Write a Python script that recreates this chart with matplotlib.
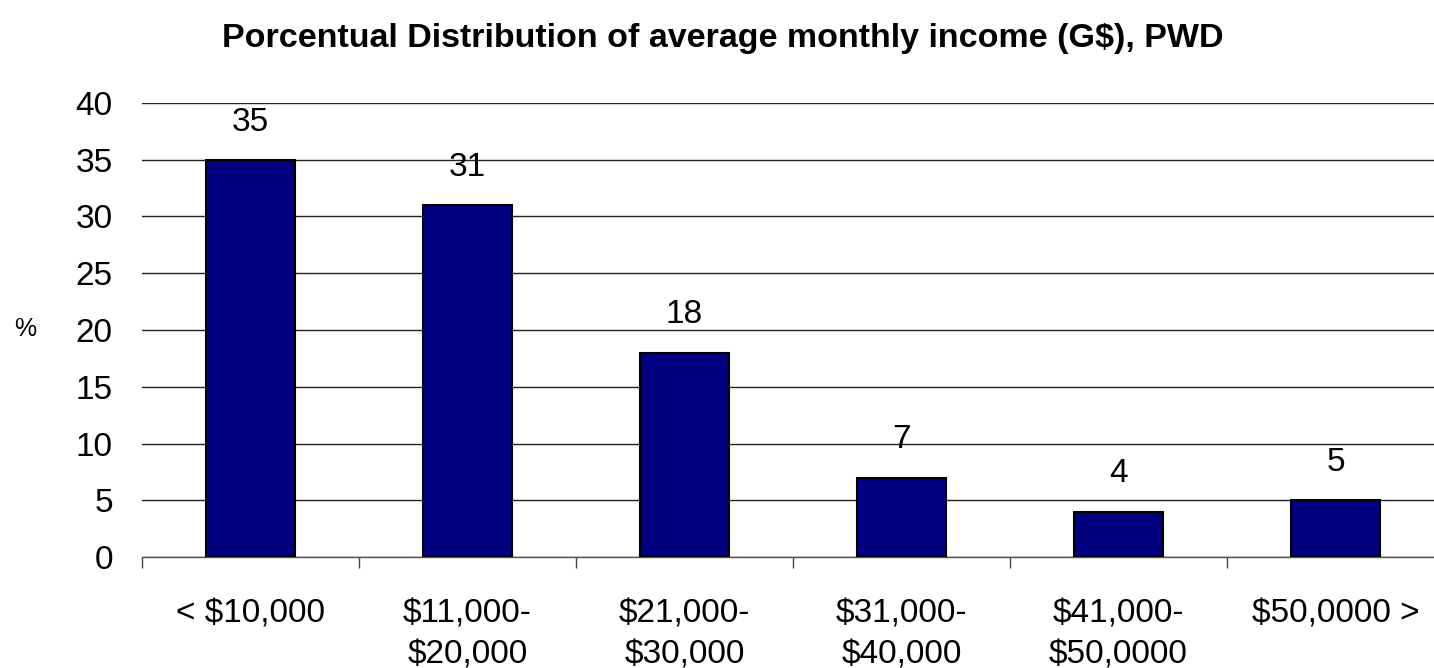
import matplotlib.pyplot as plt
import numpy as np

# Data
categories = ['< $10,000', '$11,000-\n$20,000', '$21,000-\n$30,000',
              '$31,000-\n$40,000', '$41,000-\n$50,0000', '$50,0000 >']
percent = [35, 31, 18, 7, 4, 5]
y_ticks = [0, 5, 10, 15, 20, 25, 30, 35, 40]

plt.rcParams['font.family'] = ['Liberation Sans', 'DejaVu Sans']

fig = plt.figure(figsize=(14.34, 6.68), dpi=100)
ax = fig.add_axes([142 / 1434, 111 / 668, 1302 / 1434, 454 / 668])

x = np.arange(len(categories))
bars = ax.bar(x, percent, width=0.41, color='#000080', edgecolor='black',
              linewidth=1.5, zorder=3)

for b, v in zip(bars, percent):
    ax.annotate(str(v), (b.get_x() + b.get_width() / 2, v),
                xytext=(0, 16), textcoords='offset points',
                ha='center', va='bottom', fontsize=24)

ax.set_xlim(-0.5, len(categories) - 0.5)
ax.set_ylim(0, 40)
ax.set_yticks(y_ticks)
ax.set_yticklabels([str(t) for t in y_ticks], fontsize=24)
ax.tick_params(axis='y', length=0, pad=21)

# ticks on x sit at category boundaries, labels at the centres
ax.set_xticks(np.arange(len(categories) + 1) - 0.5)
ax.set_xticklabels([])
ax.set_xticks(x, minor=True)
ax.set_xticklabels(categories, minor=True, fontsize=24, linespacing=1.4,
                   va='top')
ax.tick_params(axis='x', which='major', length=8, width=1, color='#444444',
               direction='out')
ax.tick_params(axis='x', which='minor', length=0, pad=30)

ax.yaxis.grid(True, color='#222222', linewidth=1, zorder=0)
ax.set_axisbelow(True)
for s in ['left', 'right', 'top']:
    ax.spines[s].set_visible(False)
ax.spines['bottom'].set_color('#555555')
ax.spines['bottom'].set_linewidth(1)

fig.text(14 / 1434, 1 - 329 / 668, '%', fontsize=18, ha='left', va='center')
fig.text(0.504, 1 - 39 / 668,
         'Porcentual Distribution of average monthly income (G$), PWD',
         fontsize=24.5, fontweight='bold', ha='center', va='center')

plt.savefig('out.png', dpi=100)
